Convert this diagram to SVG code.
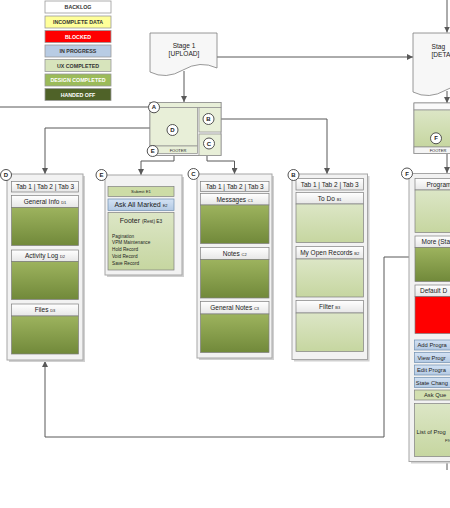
<svg xmlns="http://www.w3.org/2000/svg" width="450" height="508" viewBox="0 0 450 508">
<style>
text{font-family:"Liberation Sans",Arial,sans-serif;fill:#222}
.leg{stroke:#999;stroke-width:0.8px}
.lt{font-size:5.3px;font-weight:bold;text-anchor:middle;fill:#333}
.w{fill:#fff}
.col{fill:#F2F2F2;stroke:#A6A6A6;stroke-width:1px}
.sh{fill:#D0D0D0}
.hd{fill:url(#gHd);stroke:#7F7F7F;stroke-width:0.7px}
.dg{fill:url(#gDark);stroke:#7F7F7F;stroke-width:0.7px}
.lg{fill:url(#gLight);stroke:#7F7F7F;stroke-width:0.7px}
.bl{fill:url(#gBlue);stroke:#6F8FB0;stroke-width:0.7px}
.rd{fill:#FF0000;stroke:#7F7F7F;stroke-width:0.7px}
.ht{font-size:6.5px;text-anchor:middle}
.sub{font-size:4px}
.cc{fill:#fff;stroke:#404040;stroke-width:0.9px}
.ct{font-size:6px;font-weight:bold;text-anchor:middle}
.cn{fill:none;stroke:#595959;stroke-width:1px}
.pn{fill:#E8EFD8;stroke:#8C8C8C;stroke-width:0.7px}
.doc{fill:#F7F7F7;stroke:#7F7F7F;stroke-width:0.8px}
.st{font-size:6.6px;text-anchor:middle}
.li{font-size:4.7px}
.fs6{font-size:5.8px}
</style>
<defs>
<linearGradient id="gDark" x1="0" y1="0" x2="0" y2="1"><stop offset="0" stop-color="#9DB35E"/><stop offset="1" stop-color="#71893A"/></linearGradient>
<linearGradient id="gLight" x1="0" y1="0" x2="0" y2="1"><stop offset="0" stop-color="#DCE6C6"/><stop offset="1" stop-color="#C6D6A0"/></linearGradient>
<linearGradient id="gHd" x1="0" y1="0" x2="0" y2="1"><stop offset="0" stop-color="#FFFFFF"/><stop offset="1" stop-color="#E6E6E6"/></linearGradient>
<linearGradient id="gBlue" x1="0" y1="0" x2="0" y2="1"><stop offset="0" stop-color="#D3E2F4"/><stop offset="1" stop-color="#B3C9E3"/></linearGradient>
<marker id="ar" viewBox="0 0 10 10" refX="10" refY="5" markerWidth="6" markerHeight="6" orient="auto" markerUnits="userSpaceOnUse"><path d="M0,0 L10,5 L0,10 Z" fill="#595959"/></marker>
</defs>
<rect width="450" height="508" fill="#fff"/>

<g id="legend">
<rect class="leg" x="45" y="1" width="66" height="12" fill="#FFFFFF"/><text class="lt" x="78" y="9">BACKLOG</text>
<rect class="leg" x="45" y="16" width="66" height="12" fill="#FFFF99"/><text class="lt" x="78" y="24">INCOMPLETE DATA</text>
<rect class="leg" x="45" y="30.5" width="66" height="12" fill="#FF0000"/><text class="lt w" x="78" y="38.5">BLOCKED</text>
<rect class="leg" x="45" y="45" width="66" height="12" fill="#B8CCE4"/><text class="lt" x="78" y="53">IN PROGRESS</text>
<rect class="leg" x="45" y="59.5" width="66" height="12" fill="#D7E4BC"/><text class="lt" x="78" y="67.5">UX COMPLETED</text>
<rect class="leg" x="45" y="74" width="66" height="12" fill="#9BBB59"/><text class="lt w" x="78" y="82">DESIGN COMPLETED</text>
<rect class="leg" x="45" y="88.5" width="66" height="12" fill="#4F6228"/><text class="lt w" x="78" y="96.5">HANDED OFF</text>
</g>

<g id="connectors">
<path class="cn" d="M184,71 V102" marker-end="url(#ar)"/>
<path class="cn" d="M217,57 H413" marker-end="url(#ar)"/>
<path class="cn" d="M447,0 V32.5" marker-end="url(#ar)"/>
<path class="cn" d="M447,91 V103" marker-end="url(#ar)"/>
<path class="cn" d="M447,153 V173" marker-end="url(#ar)"/>
<path class="cn" d="M0,107 H148.5"/>
<path class="cn" d="M150,128 H45 V174" marker-end="url(#ar)"/>
<path class="cn" d="M221,119 H327 V174" marker-end="url(#ar)"/>
<path class="cn" d="M174,153 V161 H141 V175" marker-end="url(#ar)"/>
<path class="cn" d="M207,155 V161 H234.5 V174" marker-end="url(#ar)"/>
<path class="cn" d="M409,257 H384 V437 H45 V361" marker-end="url(#ar)"/>
<path class="cn" d="M447,461.5 V470"/>
</g>

<g id="stage1">
<path class="doc" d="M150,33 H217 V68 Q200,60 183,70 T150,72 Z"/>
<text class="st" x="184" y="48">Stage 1</text>
<text class="st" x="184" y="56">[UPLOAD]</text>
</g>

<g id="stage2">
<path class="doc" d="M413,33 H480 V88 Q463,80 446,90 T413,92 Z"/>
<text class="st" x="431.5" y="48.5" style="text-anchor:start">Stag</text>
<text class="st" x="431.5" y="56.5" style="text-anchor:start">[DETA</text>
</g>

<g id="nodeA">
<rect x="150" y="102.5" width="71" height="53" fill="#F2F2F2" stroke="#8C8C8C" stroke-width="0.9"/>
<rect class="pn" x="150" y="102.5" width="71" height="5"/>
<rect class="pn" x="150" y="107.5" width="47.5" height="38.5"/>
<rect class="pn" x="150" y="146" width="47.5" height="7.5"/>
<rect class="pn" x="199" y="107.5" width="22" height="24.5"/>
<rect class="pn" x="199" y="134" width="22" height="21.5"/>
<text x="178" y="152" style="font-size:4px;text-anchor:middle">FOOTER</text>
<circle class="cc" cx="154" cy="107.3" r="5.5"/><text class="ct" x="154" y="109.4">A</text>
<circle class="cc" cx="172.5" cy="130" r="5.5"/><text class="ct" x="172.5" y="132.1">D</text>
<circle class="cc" cx="208.5" cy="119" r="5.5"/><text class="ct" x="208.5" y="121.1">B</text>
<circle class="cc" cx="209" cy="143.5" r="5.5"/><text class="ct" x="209" y="145.6">C</text>
<circle class="cc" cx="152.7" cy="151" r="5.5"/><text class="ct" x="152.7" y="153.1">E</text>
</g>

<g id="nodeF">
<rect x="414" y="103" width="71" height="50.5" fill="#F2F2F2" stroke="#8C8C8C" stroke-width="0.9"/>
<rect x="414" y="103" width="71" height="7" fill="#FAFAFA" stroke="#8C8C8C" stroke-width="0.7"/>
<rect x="414" y="110" width="71" height="37" fill="url(#gLight)" stroke="#8C8C8C" stroke-width="0.7"/>
<rect x="414" y="147" width="71" height="6.5" fill="#F5F5F5" stroke="#8C8C8C" stroke-width="0.7"/>
<text x="438" y="152" style="font-size:4px;text-anchor:middle">FOOTER</text>
<circle class="cc" cx="436" cy="138.3" r="5.5"/><text class="ct" x="436" y="140.4">F</text>
</g>

<g id="colD">
<rect class="sh" x="9" y="176" width="76" height="186"/>
<rect class="col" x="7" y="174" width="76" height="186"/>
<rect class="hd" x="11.5" y="181.5" width="67" height="10.5"/><text class="ht" x="45" y="189.2">Tab 1 | Tab 2 | Tab 3</text>
<rect class="hd" x="11.5" y="195.5" width="67" height="12"/><text class="ht" x="45" y="203.7">General Info <tspan class="sub">D1</tspan></text>
<rect class="dg" x="11.5" y="207.5" width="67" height="38"/>
<rect class="hd" x="11.5" y="250" width="67" height="11.5"/><text class="ht" x="45" y="258.2">Activity Log <tspan class="sub">D2</tspan></text>
<rect class="dg" x="11.5" y="261.5" width="67" height="38"/>
<rect class="hd" x="11.5" y="304" width="67" height="12"/><text class="ht" x="45" y="312.2">Files  <tspan class="sub">D3</tspan></text>
<rect class="dg" x="11.5" y="316" width="67" height="38"/>
<circle class="cc" cx="6" cy="175" r="5.5"/><text class="ct" x="6" y="177.1">D</text>
</g>

<g id="colE">
<rect class="sh" x="107" y="177" width="77" height="100"/>
<rect class="col" x="105" y="175" width="77" height="100"/>
<rect x="108" y="186.5" width="66" height="10" fill="#CDDCA6" stroke="#7F7F7F" stroke-width="0.7"/><text x="141" y="193.2" style="font-size:4.3px;text-anchor:middle">Submit E1</text>
<rect class="bl" x="108" y="199" width="66" height="11.5"/><text x="141" y="207.4" style="font-size:7px;text-anchor:middle">Ask All Marked <tspan class="sub">E2</tspan></text>
<rect class="lg" x="108" y="212.5" width="66" height="57.5"/><text x="141" y="222.5" style="font-size:7px;text-anchor:middle">Footer <tspan style="font-size:4.8px">(Rest) E3</tspan></text>
<text class="li" x="112" y="237.5">Pagination</text>
<text class="li" x="112" y="244">VPM Maintenance</text>
<text class="li" x="112" y="250.5">Hold Record</text>
<text class="li" x="112" y="257.5">Void Record</text>
<text class="li" x="112" y="265">Save Record</text>
<circle class="cc" cx="101.5" cy="175" r="5.5"/><text class="ct" x="101.5" y="177.1">E</text>
</g>

<g id="colC">
<rect class="sh" x="199" y="176" width="75" height="184"/>
<rect class="col" x="197" y="174" width="75" height="184"/>
<rect class="hd" x="200.5" y="181.5" width="68.5" height="10"/><text class="ht" x="234.7" y="189">Tab 1 | Tab 2 | Tab 3</text>
<rect class="hd" x="200.5" y="193.5" width="68.5" height="11.5"/><text class="ht" x="234.7" y="201.7">Messages <tspan class="sub">C1</tspan></text>
<rect class="dg" x="200.5" y="205" width="68.5" height="38.5"/>
<rect class="hd" x="200.5" y="247.5" width="68.5" height="12"/><text class="ht" x="234.7" y="255.9">Notes  <tspan class="sub">C2</tspan></text>
<rect class="dg" x="200.5" y="259.5" width="68.5" height="38.5"/>
<rect class="hd" x="200.5" y="301.5" width="68.5" height="12.5"/><text class="ht" x="234.7" y="310.2">General Notes  <tspan class="sub">C3</tspan></text>
<rect class="dg" x="200.5" y="314" width="68.5" height="38.5"/>
<circle class="cc" cx="193.5" cy="174" r="5.5"/><text class="ct" x="193.5" y="176.1">C</text>
</g>

<g id="colB">
<rect class="sh" x="294" y="176" width="75.5" height="185.5"/>
<rect class="col" x="292" y="174" width="75.5" height="185.5"/>
<rect class="hd" x="296" y="178.5" width="67.5" height="11.5"/><text class="ht" x="329.7" y="186.7">Tab 1 | Tab 2 | Tab 3</text>
<rect class="hd" x="296" y="192.5" width="67.5" height="11.5"/><text class="ht" x="329.7" y="200.7">To Do <tspan class="sub">B1</tspan></text>
<rect class="lg" x="296" y="204" width="67.5" height="38.5"/>
<rect class="hd" x="296" y="246.5" width="67.5" height="12.5"/><text class="ht" x="329.7" y="255.2">My Open Records <tspan class="sub">B2</tspan></text>
<rect class="lg" x="296" y="259" width="67.5" height="38"/>
<rect class="hd" x="296" y="300.5" width="67.5" height="12.5"/><text class="ht" x="329.7" y="309.2">Filter <tspan class="sub">B3</tspan></text>
<rect class="lg" x="296" y="313" width="67.5" height="38.5"/>
<circle class="cc" cx="293.5" cy="175" r="5.5"/><text class="ct" x="293.5" y="177.1">B</text>
</g>

<g id="colF">
<rect class="sh" x="411" y="175.5" width="60" height="288"/>
<rect class="col" x="409" y="173.5" width="60" height="288"/>
<rect class="hd" x="415" y="178.5" width="50" height="11.5"/><text class="ht" x="426.5" y="186.7" style="text-anchor:start">Program</text>
<rect class="lg" x="415" y="190" width="50" height="42.5"/>
<rect class="hd" x="415" y="236" width="50" height="11.5"/><text class="ht" x="421.5" y="244.2" style="text-anchor:start">More (Sta</text>
<rect class="dg" x="415" y="247.5" width="50" height="34"/>
<rect class="hd" x="415" y="285" width="50" height="11.5"/><text class="ht" x="420" y="293.2" style="text-anchor:start">Default D</text>
<rect class="rd" x="415" y="296.5" width="50" height="37"/>
<rect class="bl" x="414.5" y="340" width="50" height="10"/><text class="fs6" x="417.5" y="347.1">Add Progra</text>
<rect class="bl" x="414.5" y="352.5" width="50" height="10"/><text class="fs6" x="417.5" y="359.6">View Progr</text>
<rect class="bl" x="414.5" y="365" width="50" height="10"/><text class="fs6" x="417" y="372.1">Edit Progra</text>
<rect class="bl" x="414.5" y="377.5" width="50" height="10"/><text class="fs6" x="415.8" y="384.6">State Chang</text>
<rect x="414.5" y="390" width="50" height="10" fill="#D2DFB0" stroke="#7F7F7F" stroke-width="0.7"/><text class="fs6" x="424" y="397.1">Ask Que</text>
<rect class="lg" x="414.5" y="403.5" width="50" height="53"/><text class="fs6" x="416.5" y="434">List of Prog</text>
<text x="445" y="441.5" style="font-size:4px">F9</text>
<circle class="cc" cx="407" cy="173.5" r="5.5"/><text class="ct" x="407" y="175.6">F</text>
</g>
</svg>
